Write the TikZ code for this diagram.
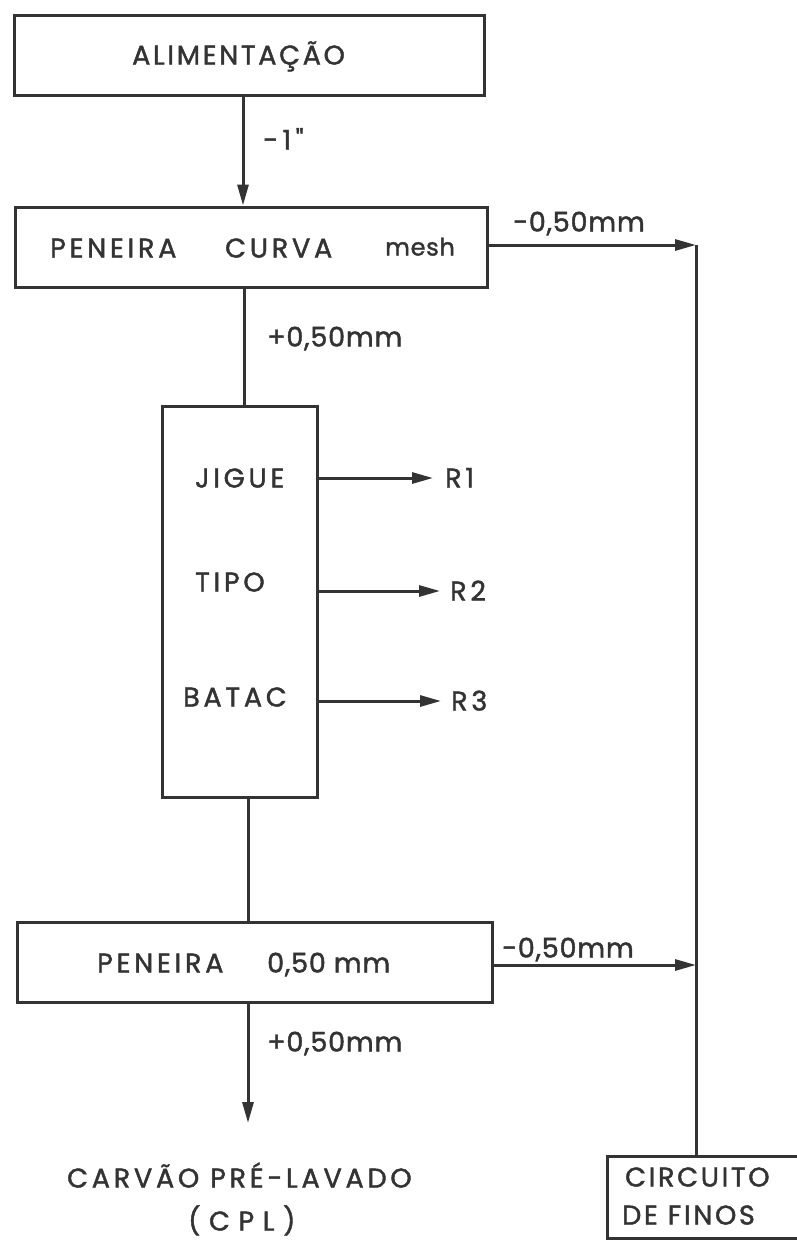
\documentclass[tikz,border=0pt]{standalone}
\usepackage{fontspec}
\setmainfont{Poppins}
\newfontfamily\lf[LetterSpace=14,FakeBold=1.6]{Poppins}
\newfontfamily\nf[LetterSpace=3,FakeBold=1.6]{Poppins}
\newfontfamily\wf[LetterSpace=32,FakeBold=1.6]{Poppins}
\usetikzlibrary{arrows.meta}
\begin{document}
\begin{tikzpicture}[x=1pt,y=-1pt,
  ink/.style={draw=black!80, line width=3pt},
  box/.style={ink, rectangle, inner sep=0pt},
  txt/.style={anchor=west, inner sep=0pt, text height=19pt, text depth=0pt, text=black!80, font=\lf\fontsize{27}{27}\selectfont},
  num/.style={txt, font=\nf\fontsize{27}{27}\selectfont},
  arr/.style={ink, -{Triangle[length=21pt,width=11pt]}},
  wire/.style={ink}]
\useasboundingbox (0,0) rectangle (797,1240);
% boxes
\node[box, minimum width=470pt, minimum height=80pt] (alim) at (249,55) {};
\node[box, minimum width=472pt, minimum height=80pt] (curva) at (251,247) {};
\node[box, minimum width=155pt, minimum height=391pt] (jig) at (239.5,601.5) {};
\node[box, minimum width=475pt, minimum height=80pt] (pen) at (254.5,962) {};
\node[box, minimum width=205pt, minimum height=82pt] (fin) at (709.5,1197) {};
% texts in boxes
\node[txt, font=\nf\fontsize{27}{27}\selectfont\addfontfeature{LetterSpace=10}] (talim) at (132,55) {ALIMENTAÇÃO};
\node[txt] (tpen1) at (50,248) {PENEIRA};
\node[txt] (tcurva) at (225,248) {CURVA};
\node[txt, font=\nf\fontsize{24}{24}\selectfont, text height=17pt] (tmesh) at (385,247) {mesh};
\node[txt] (tjig) at (195,478) {JIGUE};
\node[txt] (ttipo) at (195,582) {TIPO};
\node[txt] (tbat) at (183,697) {BATAC};
\node[txt] (tpen2) at (97,963) {PENEIRA};
\node[num] (t050) at (267,963) {0,50 mm};
\node[txt, font=\nf\fontsize{27}{27}\selectfont\addfontfeature{LetterSpace=10}] (tcirc) at (625,1177) {CIRCUITO};
\node[txt, font=\nf\fontsize{27}{27}\selectfont\addfontfeature{LetterSpace=10}] (tfin) at (622,1215) {DE FINOS};
% outputs
\node[txt] (r1) at (445,478) {R1};
\node[txt] (r2) at (450,591) {R2};
\node[txt] (r3) at (451,701) {R3};
\node[txt] (cpl) at (67,1178) {CARVÃO PRÉ-LAVADO};
\node[txt, font=\wf\fontsize{27}{27}\selectfont] (cpl2) at (188,1221) {(CPL)};
% flow labels
\node[num] (l1) at (263,140) {-\,1\,"};
\node[num] (l2) at (513,222) {-0,50mm};
\node[num] (l3) at (267,337) {+0,50mm};
\node[num] (l4) at (502,948) {-0,50mm};
\node[num] (l5) at (267,1042) {+0,50mm};
% connectors
\coordinate (xa) at (243,0);
\coordinate (xb) at (244,0);
\coordinate (xc) at (248,0);
\coordinate (cplend) at (248,1123);
\coordinate (j1) at (696,245);
\coordinate (j2) at (696,965);
\draw[arr] (alim.south -| xa) -- (curva.north -| xa);
\draw[wire] (curva.south -| xb) -- (jig.north -| xb);
\draw[wire] (jig.south -| xc) -- (pen.north -| xc);
\draw[arr] (pen.south -| xc) -- (cplend);
\draw[arr] (curva.east |- j1) -- (j1);
\draw[wire] (j1) -- (fin.north -| j1);
\draw[arr] (pen.east |- j2) -- (j2);
\draw[arr, shorten >=12pt] (jig.east |- r1.west) -- (r1.west);
\draw[arr, shorten >=10pt] (jig.east |- r2.west) -- (r2.west);
\draw[arr, shorten >=10pt] (jig.east |- r3.west) -- (r3.west);
\end{tikzpicture}
\end{document}
